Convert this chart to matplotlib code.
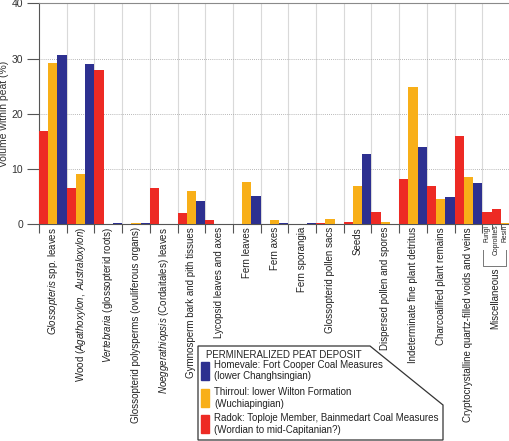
import matplotlib
matplotlib.use("Agg")
import numpy as np
import matplotlib.pyplot as plt
from matplotlib.patches import Polygon, Rectangle

plt.rcParams['font.family'] = ['Liberation Sans', 'DejaVu Sans']
plt.rcParams['mathtext.fontset'] = 'custom'
plt.rcParams['mathtext.rm'] = 'Liberation Sans'
plt.rcParams['mathtext.it'] = 'Liberation Sans:italic'

# categories (main groups)
categories = [
    r'$\mathit{Glossopteris}$ spp. leaves',
    r'Wood ($\mathit{Agathoxylon,\ Australoxylon}$)',
    r'$\mathit{Vertebraria}$ (glossopterid roots)',
    'Glossopterid polysperms (ovuliferous organs)',
    r'$\mathit{Noeggerathiopsis}$ (Cordaitales) leaves',
    'Gymnosperm bark and pith tissues',
    'Lycopsid leaves and axes',
    'Fern leaves',
    'Fern axes',
    'Fern sporangia',
    'Glossopterid pollen sacs',
    'Seeds',
    'Dispersed pollen and spores',
    'Indeterminate fine plant detritus',
    'Charcoalified plant remains',
    'Cryptocrystalline quartz-filled voids and veins',
]
radok = [16.9, 6.6, 28.0, 0.0, 6.6, 2.0, 0.7, 0.0, 0.0, 0.0, 0.25, 0.5, 2.3, 8.2, 6.9, 15.9]
thirroul = [29.2, 9.1, 0.05, 0.3, 0.0, 6.1, 0.0, 7.6, 0.8, 0.0, 1.0, 7.0, 0.4, 24.9, 4.5, 8.5]
homevale = [30.7, 29.0, 0.3, 0.3, 0.0, 4.2, 0.0, 5.1, 0.3, 0.25, 0.1, 12.8, 0.0, 14.0, 4.9, 7.5]

# miscellaneous group: one bar per item
misc_labels = ['Fungi', 'Coprolites', 'Resin']
misc_series = ['radok', 'radok', 'thirroul']
misc_values = [2.3, 2.7, 0.2]

legend_labels = {
    'homevale': 'Homevale: Fort Cooper Coal Measures\n(lower Changhsingian)',
    'thirroul': 'Thirroul: lower Wilton Formation\n(Wuchiapingian)',
    'radok': 'Radok: Toploje Member, Bainmedart Coal Measures\n(Wordian to mid-Capitanian?)',
}
colors = {'radok': '#ED2A24', 'thirroul': '#F8AF18', 'homevale': '#2D3090'}

W, H = 510, 441
fig = plt.figure(figsize=(W / 100, H / 100), dpi=100)


def fx(px):
    return px / W


def fy(py):
    return 1 - py / H


ax = fig.add_axes([fx(39), fy(224.3), fx(510 - 39), (224.3 - 3.3) / H])

n = len(categories)
x = np.arange(n)
bw = 1 / 3
ax.bar(x, radok, width=bw, align='edge', color=colors['radok'], zorder=3)
ax.bar(x + bw, thirroul, width=bw, align='edge', color=colors['thirroul'], zorder=3)
ax.bar(x + 2 * bw, homevale, width=bw, align='edge', color=colors['homevale'], zorder=3)

for i, (lab, s, v) in enumerate(zip(misc_labels, misc_series, misc_values)):
    ax.bar(n + i * bw, v, width=bw, align='edge', color=colors[s], zorder=3)

ax.set_xlim(0, n + 1)
ax.set_ylim(0, 40)

# grid
for b in range(1, n + 1):
    ax.axvline(b, color='#d9d9d9', lw=0.8, zorder=1)
for yv in [10, 20, 30]:
    ax.axhline(yv, color='#a0a0a0', lw=0.6, ls=(0, (1, 1.5)), zorder=1)

ax.spines['top'].set_color('#8a8a8a')
ax.spines['right'].set_visible(False)
ax.spines['left'].set_color('#555555')
ax.spines['bottom'].set_color('#555555')

ax.set_yticks([0, 10, 20, 30, 40])
ax.tick_params(axis='y', direction='out', length=8.6, width=0.8, color='#555555',
               labelsize=7.5, labelcolor='#333333', pad=3)

ax.set_xticks(np.arange(0, n + 1))
ax.set_xticklabels([])
ax.tick_params(axis='x', which='major', direction='out', length=6.5, width=0.8, color='#555555')
ax.set_xticks(x + 0.5, minor=True)
ax.set_xticklabels(categories, minor=True, rotation=90, fontsize=7.0, color='#222222')
ax.tick_params(axis='x', which='minor', length=0, pad=2)

ax.set_ylabel('Volume within peat (%)', fontsize=7.5, color='#333333')
ax.yaxis.set_label_coords((9 - 39) / 471, 0.5)

# miscellaneous sub-labels, small ticks and bracket
for i, lab in enumerate(misc_labels):
    ax.plot([n + (i + 1) * bw] * 2, [0, -0.9], color='#555555', lw=0.7, clip_on=False)
    ax.text(n + (i + 0.5) * bw, -0.1, lab, rotation=90, ha='center', va='top',
            fontsize=4.9, color='#222222')
ax.plot([n + 0.04, n + 0.04, n + 0.86, n + 0.86], [-4.7, -7.6, -7.6, -4.7],
        color='#777777', lw=0.7, clip_on=False)
ax.text(n + 0.47, -7.9, 'Miscellaneous', rotation=90, ha='center', va='top',
        fontsize=7.0, color='#222222')

# legend box with cut corner
poly = Polygon([(fx(198), fy(346)), (fx(370), fy(346)), (fx(443), fy(405)),
                (fx(443), fy(440)), (fx(198), fy(440))], closed=True,
               transform=fig.transFigure, facecolor='white', edgecolor='#333333', lw=0.9)
fig.patches.append(poly)
fig.text(fx(206), fy(355), 'PERMINERALIZED PEAT DEPOSIT', fontsize=6.9,
         color='#222222', va='center', ha='left')
entries = [('homevale', 361.5), ('thirroul', 389), ('radok', 415)]
for key, ptop in entries:
    fig.patches.append(Rectangle((fx(201), fy(ptop + 18)), fx(8.5), 18 / H,
                                 transform=fig.transFigure, color=colors[key]))
    fig.text(fx(214), fy(ptop + 9), legend_labels[key], fontsize=7.0, color='#222222',
             va='center', ha='left', linespacing=1.2)

fig.savefig('out.png', dpi=100)
